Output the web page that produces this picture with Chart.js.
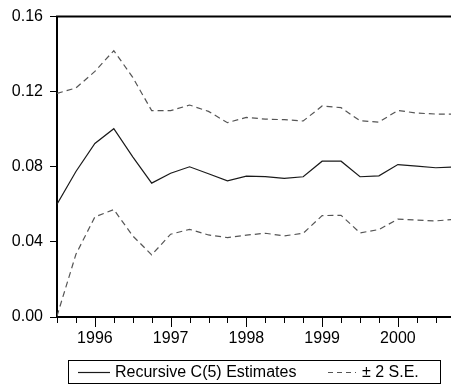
<!DOCTYPE html>
<html>
<head>
<meta charset="utf-8">
<script src="https://cdn.jsdelivr.net/npm/chart.js@4"></script>
<style>
  html, body { margin: 0; padding: 0; background: #fff; overflow: hidden; }
  #wrap { width: 451px; height: 385px; position: relative; }
</style>
</head>
<body>
<div id="wrap"><canvas id="c" width="451" height="385"></canvas></div>
<script>
const quarters = ["1995Q3","1995Q4",
  "1996Q1","1996Q2","1996Q3","1996Q4",
  "1997Q1","1997Q2","1997Q3","1997Q4",
  "1998Q1","1998Q2","1998Q3","1998Q4",
  "1999Q1","1999Q2","1999Q3","1999Q4",
  "2000Q1","2000Q2","2000Q3","2000Q4"];
const yearTicks = ["1996","1997","1998","1999","2000"];
const yTicks = [0.00, 0.04, 0.08, 0.12, 0.16];

const estimates = [0.0601,0.0775,0.0924,0.1003,0.0853,0.0713,0.0766,0.0800,0.0763,0.0725,0.0750,0.0748,0.0738,0.0747,0.0830,0.0830,0.0747,0.0752,0.0812,0.0804,0.0795,0.0799];
const upperSE   = [0.1191,0.1220,0.1308,0.1419,0.1276,0.1099,0.1099,0.1129,0.1095,0.1035,0.1063,0.1054,0.1051,0.1044,0.1124,0.1115,0.1045,0.1038,0.1100,0.1086,0.1081,0.1080];
const lowerSE   = [0.0005,0.0334,0.0533,0.0572,0.0432,0.0331,0.0441,0.0467,0.0437,0.0423,0.0436,0.0446,0.0432,0.0446,0.0540,0.0542,0.0448,0.0466,0.0521,0.0516,0.0512,0.0520];

const FONT = "'Liberation Sans', Arial, sans-serif";
const FONT_SIZE = 16;
const toXY = arr => arr.map((v, i) => ({ x: i, y: v }));

const SOLID_COLOR = '#1a1a1a';
const DASH_COLOR = '#555555';
const DASH = [6, 4];

const framePlugin = {
  id: 'frame',
  afterDraw(chart) {
    const { ctx, chartArea: a, scales } = chart;
    const xs = scales.x;
    ctx.save();
    ctx.strokeStyle = '#000';
    ctx.lineWidth = 2;
    ctx.beginPath();
    ctx.moveTo(a.left - 1, a.top);
    ctx.lineTo(a.right, a.top);
    ctx.stroke();
    ctx.lineWidth = 1;
    for (let i = 0; i < quarters.length; i++) {
      const x = Math.round(xs.getPixelForValue(i)) + 0.5;
      if (x > a.right + 1) continue;
      const major = quarters[i].endsWith('Q1');
      ctx.beginPath();
      ctx.moveTo(x, a.bottom + 1);
      ctx.lineTo(x, a.bottom + (major ? 10 : 6));
      ctx.stroke();
    }
    const bx = 68.5, by = 360.5, bw = 372, bh = 23;
    ctx.strokeStyle = '#000';
    ctx.lineWidth = 1;
    ctx.strokeRect(bx, by, bw, bh);
    const ly = 372.5;
    ctx.strokeStyle = SOLID_COLOR;
    ctx.lineWidth = 1.2;
    ctx.beginPath(); ctx.moveTo(78, ly); ctx.lineTo(110, ly); ctx.stroke();
    ctx.strokeStyle = DASH_COLOR;
    ctx.setLineDash([5, 4]);
    ctx.beginPath(); ctx.moveTo(328, ly); ctx.lineTo(356, ly); ctx.stroke();
    ctx.setLineDash([]);
    ctx.fillStyle = '#000';
    ctx.font = FONT_SIZE + 'px ' + FONT;
    ctx.textBaseline = 'middle';
    ctx.textAlign = 'left';
    ctx.fillText(chart.data.datasets[0].label, 115, ly);
    ctx.fillText(chart.data.datasets[1].label, 362, ly);
    ctx.restore();
  }
};

const pxPerQuarter = (398 - 95) / 16;
const xMax = (451 - 57) / pxPerQuarter;

new Chart(document.getElementById('c'), {
  type: 'line',
  data: {
    datasets: [
      { label: 'Recursive C(5) Estimates', data: toXY(estimates), borderColor: SOLID_COLOR, borderWidth: 1.2, pointRadius: 0, tension: 0 },
      { label: '\u00B1 2 S.E.', data: toXY(upperSE), borderColor: DASH_COLOR, borderWidth: 1.2, borderDash: DASH, pointRadius: 0, tension: 0 },
      { label: '\u00B1 2 S.E. (lower)', data: toXY(lowerSE), borderColor: DASH_COLOR, borderWidth: 1.2, borderDash: DASH, pointRadius: 0, tension: 0 }
    ]
  },
  options: {
    responsive: false,
    animation: false,
    events: [],
    layout: { padding: { top: 16, right: 0, left: 0, bottom: 0 } },
    plugins: { legend: { display: false }, tooltip: { enabled: false } },
    scales: {
      x: {
        type: 'linear',
        min: 0,
        max: xMax,
        grid: { display: false },
        border: { display: true, color: '#000', width: 2 },
        ticks: {
          stepSize: 1,
          autoSkip: false,
          includeBounds: false,
          maxRotation: 0,
          padding: 4,
          color: '#000',
          font: { family: FONT, size: FONT_SIZE },
          callback: v => {
            const i = Math.round(v);
            if (i !== v || i < 0 || i >= quarters.length) return '';
            return quarters[i].endsWith('Q1') ? yearTicks[yearTicks.indexOf(quarters[i].slice(0, 4))] : '';
          }
        },
        afterFit: s => { s.height = 68; }
      },
      y: {
        min: yTicks[0],
        max: yTicks[yTicks.length - 1],
        grid: { drawOnChartArea: false, drawTicks: true, tickLength: 7, color: '#000', lineWidth: 1 },
        border: { display: true, color: '#000', width: 2 },
        ticks: {
          stepSize: 0.04,
          padding: 7,
          color: '#000',
          font: { family: FONT, size: FONT_SIZE },
          callback: v => v.toFixed(2)
        },
        afterBuildTicks: s => { s.ticks = yTicks.map(v => ({ value: v })); },
        afterFit: s => { s.width = 57; }
      }
    }
  },
  plugins: [framePlugin]
});
</script>
</body>
</html>
